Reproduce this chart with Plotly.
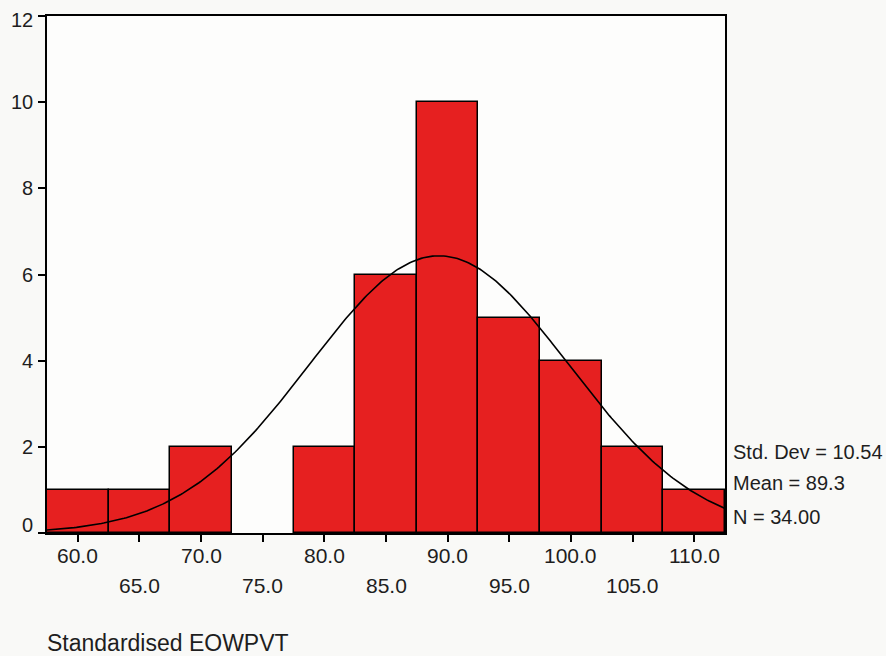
import numpy as np
import plotly.graph_objects as go

# Data
bin_centers = [60, 65, 70, 75, 80, 85, 90, 95, 100, 105, 110]
counts = [1, 1, 2, 0, 2, 6, 10, 5, 4, 2, 1]
x_tick_labels = ["60.0", "65.0", "70.0", "75.0", "80.0", "85.0", "90.0", "95.0", "100.0", "105.0", "110.0"]
y_ticks = [0, 2, 4, 6, 8, 10, 12]
std_dev = 10.54
mean = 89.3
n_total = 34
bin_width = 5
stats_lines = ["Std. Dev = 10.54", "Mean = 89.3", "N = 34.00"]
x_title = "Standardised EOWPVT"

FONT = "Liberation Sans, Arial, sans-serif"
TXT = "#1e1e1e"
BAR = "#e62020"

x_lo = bin_centers[0] - bin_width / 2
x_hi = bin_centers[-1] + bin_width / 2

# Fitted normal curve from the displayed statistics
xc = np.linspace(x_lo, x_hi, 300)
yc = n_total * bin_width / (std_dev * np.sqrt(2 * np.pi)) * np.exp(-0.5 * ((xc - mean) / std_dev) ** 2)

fig = go.Figure()
fig.add_trace(go.Bar(
    x=bin_centers, y=counts, width=bin_width,
    marker=dict(color=BAR, line=dict(color="black", width=[1.5 if c > 0 else 0 for c in counts])),
    showlegend=False, hoverinfo="skip",
))
fig.add_trace(go.Scatter(
    x=xc, y=yc, mode="lines", line=dict(color="black", width=1.6),
    showlegend=False, hoverinfo="skip",
))

annotations = []
for i, (c, lab) in enumerate(zip(bin_centers, x_tick_labels)):
    annotations.append(dict(
        x=c, xref="x", y=0, yref="paper", text=lab, showarrow=False,
        xanchor="center", yanchor="middle", yshift=-22 if i % 2 == 0 else -52,
        font=dict(family=FONT, size=21, color=TXT),
    ))
for v in y_ticks:
    shift = 0
    if v == y_ticks[0]:
        shift = 8
    elif v == y_ticks[-1]:
        shift = -4
    annotations.append(dict(
        x=0, xref="paper", y=v, yref="y", text=str(v), showarrow=False,
        xanchor="right", yanchor="middle", xshift=-12, yshift=shift,
        font=dict(family=FONT, size=20, color=TXT),
    ))
stat_y = [1.88, 1.16, 0.37]
for s, yv in zip(stats_lines, stat_y):
    annotations.append(dict(
        x=1, xref="paper", y=yv, yref="y", text=s, showarrow=False,
        xanchor="left", yanchor="middle", xshift=6,
        font=dict(family=FONT, size=20, color=TXT),
    ))
annotations.append(dict(
    x=-0.003, xref="paper", y=-0.2128, yref="paper", text=x_title, showarrow=False,
    xanchor="left", yanchor="middle",
    font=dict(family=FONT, size=23, color=TXT),
))

fig.update_layout(
    width=886, height=656,
    margin=dict(l=47, r=161, t=16, b=123, autoexpand=False),
    paper_bgcolor="#f9f9f7", plot_bgcolor="#fdfdfc",
    bargap=0,
    annotations=annotations,
    font=dict(family=FONT, size=20, color=TXT),
)
fig.update_xaxes(
    range=[x_lo, x_hi], tickvals=bin_centers, showticklabels=False,
    ticks="outside", ticklen=7, tickwidth=1.5, tickcolor="black",
    showline=True, linecolor="black", linewidth=1.5, mirror=True,
    showgrid=False, zeroline=False, automargin=False,
)
fig.update_yaxes(
    range=[0, 12], tickvals=y_ticks, showticklabels=False,
    ticks="outside", ticklen=7, tickwidth=1.5, tickcolor="black",
    showline=True, linecolor="black", linewidth=1.5, mirror=True,
    showgrid=False, zeroline=False, automargin=False,
)

fig.write_html("out.html")
